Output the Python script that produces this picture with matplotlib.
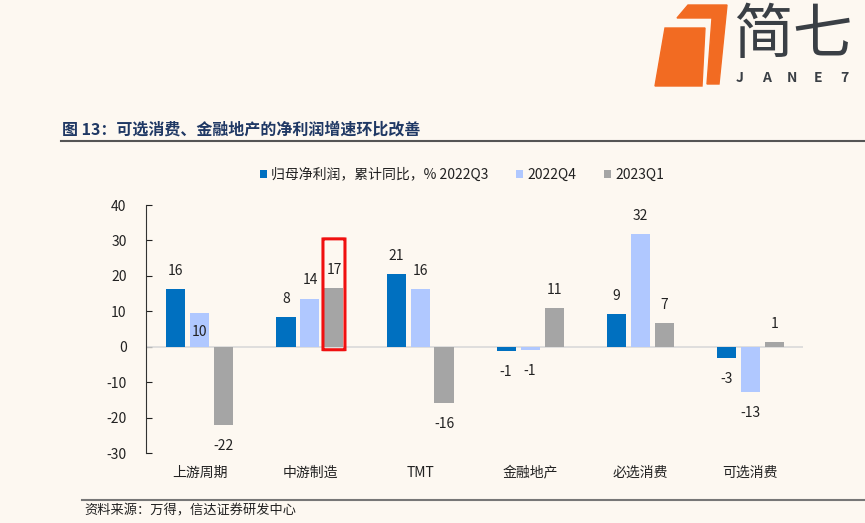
import matplotlib.pyplot as plt
import numpy as np
from matplotlib.patches import Polygon, FancyBboxPatch

plt.rcParams['font.family'] = ['Noto Sans CJK SC', 'DejaVu Sans']
plt.rcParams['axes.unicode_minus'] = False

# 数据
categories = ['上游周期', '中游制造', 'TMT', '金融地产', '必选消费', '可选消费']
series_names = ['归母净利润，累计同比，% 2022Q3', '2022Q4', '2023Q1']
q3_2022 = [16.3, 8.4, 20.6, -1.2, 9.2, -3.3]
q4_2022 = [9.6, 13.6, 16.3, -1.0, 31.7, -12.9]
q1_2023 = [-22.1, 16.6, -15.8, 10.9, 6.7, 1.2]
yticks = [-30, -20, -10, 0, 10, 20, 30, 40]

bg = '#FDF8F1'
colors = ['#0070C0', '#B0C8FF', '#A5A5A5']

fig = plt.figure(figsize=(8.65, 5.23), dpi=100, facecolor=bg)
ax = fig.add_axes([0.1688, 0.1338, 0.7595, 0.4742], facecolor=bg)

x = np.arange(len(categories))
width = 0.173
step = 0.218
all_series = [q3_2022, q4_2022, q1_2023]
for i, vals in enumerate(all_series):
    pos = x + (i - 1) * step
    ax.bar(pos, vals, width, color=colors[i], label=series_names[i], zorder=3)
    for j, v in enumerate(vals):
        if i == 1 and j == 0:
            # 这个标签在原图里压在柱子上
            ax.annotate('%.0f' % v, (pos[j], v), xytext=(0, -14), textcoords='offset points',
                        ha='center', va='center', fontsize=10, color='#222222', zorder=4)
        elif v >= 0:
            ax.annotate('%.0f' % v, (pos[j], v), xytext=(0, 13), textcoords='offset points',
                        ha='center', va='center', fontsize=10, color='#222222')
        else:
            ax.annotate('%.0f' % v, (pos[j], v), xytext=(0, -15), textcoords='offset points',
                        ha='center', va='center', fontsize=10, color='#222222')

ax.axhline(0, color='#D9D9D9', lw=1.2, zorder=2)
ax.set_xlim(-0.49, 5.48)
ax.set_ylim(-30, 40)
ax.set_yticks(yticks)
ax.set_xticks(x)
ax.set_xticklabels(categories, fontsize=10, color='#222222')
ax.tick_params(axis='x', length=0, pad=9)
ax.tick_params(axis='y', direction='in', length=4, labelsize=10, colors='#222222', pad=14)
for s in ['top', 'right', 'bottom']:
    ax.spines[s].set_visible(False)
ax.spines['left'].set_color('#333333')

# 红框
bx = x[1] + step
ax.add_patch(FancyBboxPatch((bx - 0.1, -0.85), 0.2, 31.3,
                            boxstyle='round,pad=0,rounding_size=0.02',
                            fill=False, edgecolor='#F01010', lw=2.2, zorder=5, clip_on=False))

ax.legend(loc='center', ncol=3, frameon=False, fontsize=10, handlelength=0.5,
          handleheight=0.5, handletextpad=0.3, columnspacing=2.0, borderaxespad=0, borderpad=0)
leg = ax.get_legend()
leg.set_bbox_to_anchor((462 / 865, 1 - 175 / 523), transform=fig.transFigure)
for t in leg.get_texts():
    t.set_color('#222222')

# 标题
fig.text(62 / 865, 1 - 130 / 523, '图 13：可选消费、金融地产的净利润增速环比改善', fontsize=11.5,
         fontweight='bold', color='#1F3864', va='center', ha='left')
fig.add_artist(plt.Line2D([61 / 865, 1], [1 - 141 / 523] * 2, color='#555555', lw=1.5))
fig.add_artist(plt.Line2D([82 / 865, 1], [1 - 500 / 523] * 2, color='#777777', lw=1.5))
fig.text(84 / 865, 1 - 511 / 523, '资料来源：万得，信达证券研发中心', fontsize=9.5, style='italic',
         color='#222222', va='center', ha='left')

# logo
orange = '#F26B22'
fig.add_artist(Polygon([(655 / 865, 1 - 86 / 523), (665 / 865, 1 - 28 / 523), (705 / 865, 1 - 28 / 523),
                        (702 / 865, 1 - 86 / 523)], closed=True, color=orange, transform=fig.transFigure))
fig.add_artist(Polygon([(677 / 865, 1 - 18 / 523), (688 / 865, 1 - 5 / 523), (727 / 865, 1 - 5 / 523),
                        (719 / 865, 1 - 84 / 523), (707 / 865, 1 - 84 / 523), (712 / 865, 1 - 18 / 523)],
                       closed=True, color=orange, transform=fig.transFigure))
fig.text(733 / 865, 1 - 36 / 523, '简七', fontsize=43, color='#3A3F45', va='center', ha='left')
for k, ch in enumerate('JANE7'):
    fig.text((740 + k * 26) / 865, 1 - 78 / 523, ch, fontsize=10, color='#3A3F45',
             va='center', ha='center', fontweight='bold')

fig.savefig('out.png', dpi=100, facecolor=bg)
